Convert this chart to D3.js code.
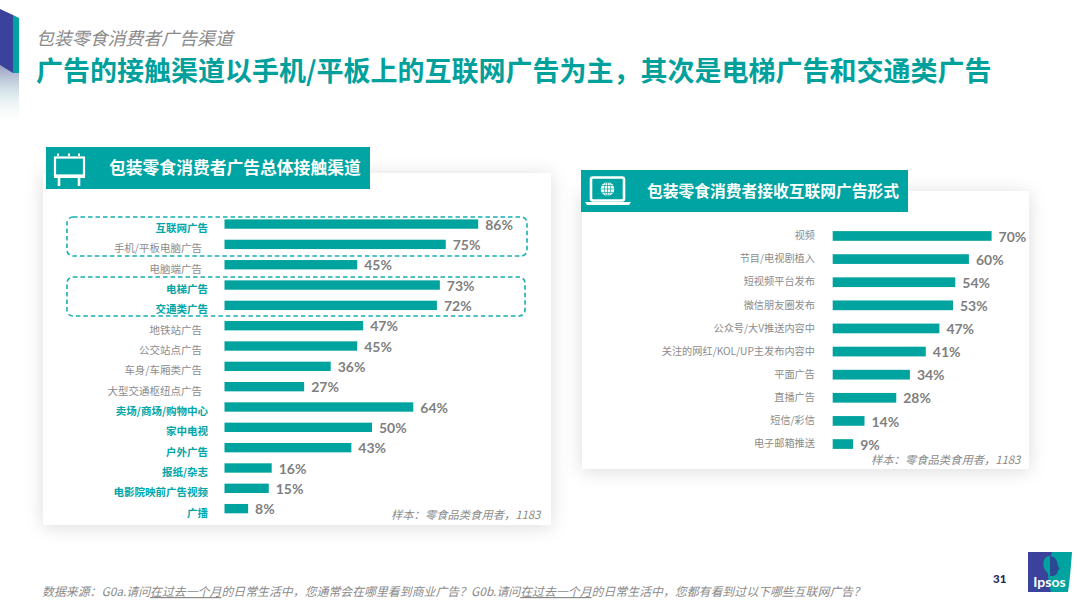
<!DOCTYPE html>
<html>
<head>
<meta charset="utf-8">
<script src="https://cdn.jsdelivr.net/npm/d3@7"></script>
<style>
  html, body { margin: 0; padding: 0; background: #fff; }
  svg { display: block; }
  text { font-family: "Noto Sans CJK SC", "Noto Sans", sans-serif; }
  .val { font-family: Lato, "Open Sans", sans-serif; font-weight: 700; font-size: 14px; fill: #7f7f7f; }
  .axis .domain, .axis line { display: none; }
</style>
</head>
<body>
<div id="chart"></div>
<script>
// left chart
const channels = ["互联网广告","手机/平板电脑广告","电脑端广告","电梯广告","交通类广告","地铁站广告","公交站点广告","车身/车厢类广告","大型交通枢纽点广告","卖场/商场/购物中心","家中电视","户外广告","报纸/杂志","电影院映前广告视频","广播"]
const channelValues = [86,75,45,73,72,47,45,36,27,64,50,43,16,15,8]
const highlighted = ["互联网广告","电梯广告","交通类广告","卖场/商场/购物中心","家中电视","户外广告","报纸/杂志","电影院映前广告视频","广播"]

// right chart
const formats = ["视频","节目/电视剧植入","短视频平台发布","微信朋友圈发布","公众号/大V推送内容中","关注的网红/KOL/UP主发布内容中","平面广告","直播广告","短信/彩信","电子邮箱推送"]
const formatValues = [70,60,54,53,47,41,34,28,14,9]

const subtitle = "包装零食消费者广告渠道"
const title = "广告的接触渠道以手机/平板上的互联网广告为主，其次是电梯广告和交通类广告"
const leftHeader = "包装零食消费者广告总体接触渠道"
const rightHeader = "包装零食消费者接收互联网广告形式"
const sampleNote = "样本：零食品类食用者，1183"
const footParts = [["数据来源：G0a.请问",0],["在过去一个月",1],["的日常生活中，您通常会在哪里看到商业广告？G0b.请问",0],["在过去一个月",1],["的日常生活中，您都有看到过以下哪些互联网广告？",0]]

const teal = "#00a39e", labelTeal = "#00a6a8", grey = "#8c8c8c"
const width = 1080, height = 608

const svg = d3.select("#chart").append("svg").attr("width", width).attr("height", height)
const defs = svg.append("defs")

const shadow = defs.append("filter").attr("id", "shadow")
  .attr("x", "-10%").attr("y", "-15%").attr("width", "120%").attr("height", "130%")
shadow.append("feDropShadow").attr("dx", 0).attr("dy", 2).attr("stdDeviation", 9)
  .attr("flood-color", "#000").attr("flood-opacity", 0.14)

const fade = defs.append("linearGradient").attr("id", "fade").attr("x1", 0).attr("x2", 0).attr("y1", 0).attr("y2", 1)
fade.append("stop").attr("offset", 0).attr("stop-color", "#6d74a8").attr("stop-opacity", 0.7)
fade.append("stop").attr("offset", 0.45).attr("stop-color", "#a9c9d2").attr("stop-opacity", 0.45)
fade.append("stop").attr("offset", 1).attr("stop-color", "#ffffff").attr("stop-opacity", 0)

// corner decoration
svg.append("path").attr("d", "M0,65 L19,73 L19,126 L0,120 Z").attr("fill", "url(#fade)")
svg.append("path").attr("d", "M0,9 L13,15 L13,73 L0,65 Z").attr("fill", "#3b429c")
svg.append("path").attr("d", "M13,15 L19,18 L19,73 L13,73 Z").attr("fill", "#00a3a0")

svg.append("text").attr("x", 36).attr("y", 45).attr("font-size", 17.9).attr("font-style", "italic")
  .attr("fill", "#8a8a8a").text(subtitle)
svg.append("text").attr("x", 36).attr("y", 81).attr("font-size", 27).attr("font-weight", 700)
  .attr("fill", "#00a19d").text(title)

function barPanel(cfg) {
  svg.append("rect").attr("x", cfg.card[0]).attr("y", cfg.card[1])
    .attr("width", cfg.card[2]).attr("height", cfg.card[3])
    .attr("fill", "#fff").attr("filter", "url(#shadow)")

  const x = d3.scaleLinear().domain([0, 100]).range([cfg.x0, cfg.x0 + cfg.perPct * 100])
  const y = d3.scaleBand().domain(cfg.names).range(cfg.yRange).paddingInner(cfg.pad).paddingOuter(cfg.pad / 2)

  const g = svg.append("g")
  g.selectAll("rect").data(cfg.values).join("rect")
    .attr("x", x(0))
    .attr("y", (d, i) => y(cfg.names[i]))
    .attr("width", d => x(d) - x(0))
    .attr("height", y.bandwidth())
    .attr("fill", teal)

  g.selectAll("text").data(cfg.values).join("text")
    .attr("class", "val")
    .attr("x", d => x(d) + cfg.valGap)
    .attr("y", (d, i) => y(cfg.names[i]) + y.bandwidth() / 2 + 5.6)
    .text(d => d + "%")

  const axis = svg.append("g").attr("class", "axis")
    .attr("transform", `translate(${cfg.labelX},${cfg.labelDy})`)
    .call(d3.axisLeft(y).tickSize(0).tickPadding(0))
  axis.selectAll("text")
    .attr("font-size", cfg.labelSize)
    .style("font-family", '"Noto Sans CJK SC", sans-serif')
    .attr("fill", grey)
    .each(function(d) {
      if (cfg.marked.includes(d)) {
        d3.select(this).attr("fill", labelTeal).attr("font-weight", 700).attr("dx", cfg.markedShift)
      }
    })

  svg.append("text").attr("x", cfg.noteX).attr("y", cfg.noteY)
    .attr("font-size", 11.3).attr("font-style", "italic").attr("fill", "#8a8a8a").text(sampleNote)
}

barPanel({
  card: [43, 173, 508, 352], names: channels, values: channelValues, marked: highlighted, markedShift: 6,
  x0: 224.5, perPct: 2.95, yRange: [213.9, 518.8], pad: 0.54, valGap: 7,
  labelX: 202, labelDy: 4.5, labelSize: 10.5, noteX: 391, noteY: 519
})

barPanel({
  card: [582, 191, 447, 278], names: formats, values: formatValues, marked: [], markedShift: 0,
  x0: 832.7, perPct: 2.27, yRange: [224.4, 455.6], pad: 0.58, valGap: 7,
  labelX: 815, labelDy: 0, labelSize: 10.2, noteX: 871, noteY: 464
})

// dashed highlight boxes
const boxes = [[67, 217, 460, 39], [67, 277, 458, 39]]
svg.selectAll(".box").data(boxes).join("rect").attr("class", "box")
  .attr("x", d => d[0]).attr("y", d => d[1]).attr("width", d => d[2]).attr("height", d => d[3])
  .attr("rx", 6).attr("fill", "none").attr("stroke", "#14afb2").attr("stroke-width", 1.6).attr("stroke-dasharray", "4.5 3")

// panel headers
const headers = [[46, 147, 324, 42, leftHeader, 109, 174, 16.8], [581, 170, 327, 42, rightHeader, 647, 197, 15.75]]
svg.selectAll(".hd").data(headers).join("rect").attr("class", "hd")
  .attr("x", d => d[0]).attr("y", d => d[1]).attr("width", d => d[2]).attr("height", d => d[3]).attr("fill", "#00a5a3")
svg.selectAll(".hdt").data(headers).join("text").attr("class", "hdt")
  .attr("x", d => d[5]).attr("y", d => d[6]).attr("font-size", d => d[7]).attr("font-weight", 700).attr("fill", "#fff").text(d => d[4])

// billboard icon
const bb = svg.append("g").attr("fill", "none").attr("stroke", "#fff")
bb.append("rect").attr("x", 55).attr("y", 157.5).attr("width", 29).attr("height", 18).attr("stroke-width", 2.2)
bb.append("path").attr("d", "M54,177 H85").attr("stroke-width", 2)
bb.append("path").attr("d", "M59,178 V186 M79,178 V186").attr("stroke-width", 2.6)
bb.append("path").attr("d", "M58,153.5 V156 M69,153.5 V156 M79,153.5 V156").attr("stroke-width", 2)

// laptop icon
const lp = svg.append("g")
lp.append("rect").attr("x", 591).attr("y", 177.5).attr("width", 33).attr("height", 23).attr("rx", 2).attr("fill", "none").attr("stroke", "#fff").attr("stroke-width", 2.6)
lp.append("path").attr("d", "M585,202 H631 L629,205 H587 Z").attr("fill", "#fff")
lp.append("circle").attr("cx", 607.5).attr("cy", 189).attr("r", 6.8).attr("fill", "#fff")
lp.append("path").attr("d", "M600.7,189 H614.3 M607.5,182.2 V195.8 M601.8,185.5 H613.2 M601.8,192.5 H613.2").attr("stroke", "#00a5a3").attr("stroke-width", 0.7).attr("fill", "none")
lp.append("ellipse").attr("cx", 607.5).attr("cy", 189).attr("rx", 3.2).attr("ry", 6.8).attr("fill", "none").attr("stroke", "#00a5a3").attr("stroke-width", 0.7)

// footnote
const foot = svg.append("text").attr("x", 42).attr("y", 596).attr("font-size", 11.9).attr("font-style", "italic").attr("fill", "#8a8a8a")
foot.selectAll("tspan").data(footParts).join("tspan")
  .attr("text-decoration", d => d[1] ? "underline" : null).text(d => d[0])

// page number and logo
svg.append("text").attr("x", 993).attr("y", 583).attr("font-size", 11.5).attr("font-weight", 900)
  .style("font-family", "Lato, sans-serif").attr("fill", "#1f2a5a").text("31")
svg.append("path").attr("d", "M1028,552 H1072 C1071,565 1070,580 1068,592 H1028 Z").attr("fill", "#00a3a0")
svg.append("path").attr("d", "M1028,552 H1052 C1047,565 1047,580 1051,592 H1028 Z").attr("fill", "#3b429c")
svg.append("path").attr("d", "M1050,556 C1044,556 1042,563 1044,568 C1045,571 1048,572 1049,576 H1050 Z").attr("fill", "#00a3a0")
svg.append("path").attr("d", "M1050,556 C1056,556 1058,563 1058,566 L1060,569 L1058,570 C1058,574 1055,575 1054,576 H1050 Z").attr("fill", "#2a4a94")
svg.append("text").attr("x", 1049.5).attr("y", 587).attr("text-anchor", "middle").attr("font-size", 14).attr("font-weight", 700)
  .style("font-family", "Lato, sans-serif").attr("fill", "#fff").text("Ipsos")
</script>
</body>
</html>
